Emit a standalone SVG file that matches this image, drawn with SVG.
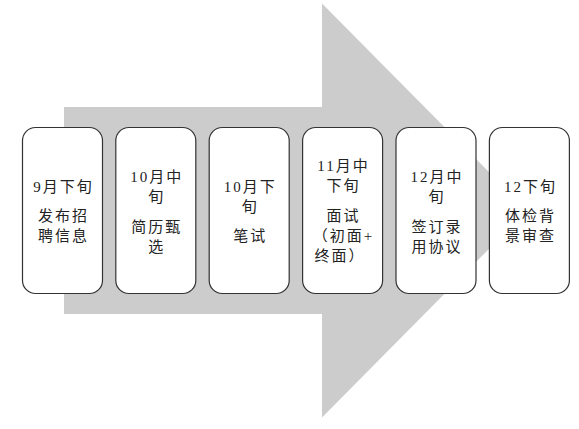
<svg xmlns="http://www.w3.org/2000/svg" width="579" height="429" viewBox="0 0 579 429">
<style>
.box{fill:#ffffff;stroke:#333333;stroke-width:1.2}
.t{font-family:"Liberation Serif","Noto Sans CJK SC",serif;font-size:15px;fill:#222222;text-anchor:middle;letter-spacing:2px}
</style>
<rect width="579" height="429" fill="#ffffff"/>
<g id="arrow">
<polygon points="64,107 322,107 322,3.5 527,210.5 322,417.5 322,314 64,314" fill="#cccccc"/>
</g>
<g id="connectors"></g>
<g id="n1">
<rect class="box" x="22.5" y="127.5" width="80" height="166" rx="13"/>
<text class="t" x="63.5" y="191.5">9月下旬</text>
<text class="t" x="63.5" y="220.5">发布招</text>
<text class="t" x="63.5" y="240.5">聘信息</text>
</g>
<g id="n2">
<rect class="box" x="115.8" y="127.5" width="80" height="166" rx="13"/>
<text class="t" x="156.8" y="182">10月中</text>
<text class="t" x="156.8" y="202">旬</text>
<text class="t" x="156.8" y="231.5">简历甄</text>
<text class="t" x="156.8" y="251.5">选</text>
</g>
<g id="n3">
<rect class="box" x="209.2" y="127.5" width="80" height="166" rx="13"/>
<text class="t" x="250.2" y="192">10月下</text>
<text class="t" x="250.2" y="212">旬</text>
<text class="t" x="250.2" y="240.5">笔试</text>
</g>
<g id="n4">
<rect class="box" x="302.6" y="127.5" width="80" height="166" rx="13"/>
<text class="t" x="343.6" y="170.5">11月中</text>
<text class="t" x="343.6" y="190.5">下旬</text>
<text class="t" x="343.6" y="220.5">面试</text>
<text class="t" x="343.6" y="240.5">（初面+</text>
<text class="t" x="340" y="260.5">终面）</text>
</g>
<g id="n5">
<rect class="box" x="396" y="127.5" width="80" height="166" rx="13"/>
<text class="t" x="437" y="182">12月中</text>
<text class="t" x="437" y="202">旬</text>
<text class="t" x="437" y="231.5">签订录</text>
<text class="t" x="437" y="251.5">用协议</text>
</g>
<g id="n6">
<rect class="box" x="489.4" y="127.5" width="80" height="166" rx="13"/>
<text class="t" x="530.4" y="192">12下旬</text>
<text class="t" x="530.4" y="220.5">体检背</text>
<text class="t" x="530.4" y="240.5">景审查</text>
</g>
</svg>
